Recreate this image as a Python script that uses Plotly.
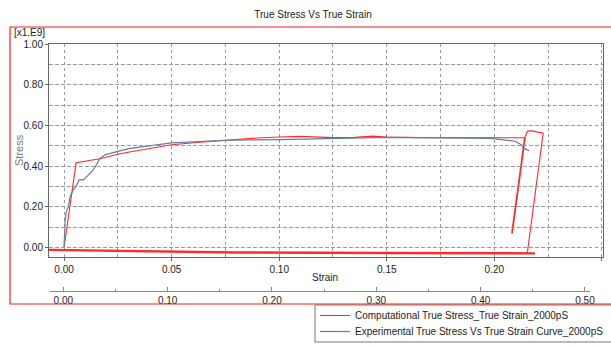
import plotly.graph_objects as go

# Computational curve (red), x = strain, y = stress [x1e9]
comp_x = [0, 0.0056, 0.0167, 0.025, 0.031, 0.05, 0.063, 0.075, 0.09, 0.10, 0.11, 0.125,
          0.135, 0.1436, 0.15, 0.165, 0.18, 0.20, 0.2142, 0.2153, 0.2169, 0.2227, 0.2153]
comp_y = [0, 0.416, 0.436, 0.458, 0.47, 0.505, 0.517, 0.527, 0.538, 0.543, 0.546, 0.540,
          0.541, 0.547, 0.543, 0.540, 0.539, 0.539, 0.539, 0.570, 0.574, 0.562, -0.029]
# Unloading segment and base line of the computational curve
comp_seg_x = [0.2082, 0.2142]
comp_seg_y = [0.069, 0.539]
comp_base_x = [-0.007, 0.04, 0.08, 0.15, 0.2189]
comp_base_y = [-0.012, -0.020, -0.025, -0.027, -0.029]

# Experimental curve (blue)
exp_x = [0, 0.0005, 0.0012, 0.002, 0.0028, 0.0043, 0.0051, 0.0071, 0.009, 0.0136, 0.0167,
         0.019, 0.0245, 0.0307, 0.05, 0.075, 0.10, 0.125, 0.1436, 0.15, 0.179, 0.198,
         0.2096, 0.2127, 0.2134, 0.2162]
exp_y = [0, 0.137, 0.184, 0.196, 0.25, 0.284, 0.292, 0.333, 0.332, 0.381, 0.438,
         0.455, 0.471, 0.487, 0.514, 0.527, 0.530, 0.536, 0.543, 0.541, 0.539, 0.536,
         0.522, 0.504, 0.488, 0.476]

RED = "#ff2a2a"
BLUE = "#5f7fa6"
FONT = "Liberation Sans"

fig = go.Figure()
fig.add_trace(go.Scatter(x=comp_x, y=comp_y, mode="lines", line=dict(color=RED, width=1.1),
                         name="Computational True Stress_True Strain_2000pS", legend="legend"))
fig.add_trace(go.Scatter(x=comp_seg_x, y=comp_seg_y, mode="lines", line=dict(color=RED, width=1.8),
                         showlegend=False))
fig.add_trace(go.Scatter(x=comp_base_x, y=comp_base_y, mode="lines", line=dict(color=RED, width=2.4),
                         showlegend=False))
fig.add_trace(go.Scatter(x=exp_x, y=exp_y, mode="lines", line=dict(color=BLUE, width=1.2),
                         name="Experimental True Stress Vs True Strain Curve_2000pS", legend="legend2"))

# invisible trace to activate the secondary strain axis
fig.add_trace(go.Scatter(x=[0, 0.5], y=[None, None], xaxis="x2", mode="lines",
                         showlegend=False, hoverinfo="skip"))

L, R, T, B = 49, 8, 44, 54
W, H = 611, 345
pw, ph = W - L - R, H - T - B

def px_x(p):
    return (p - L) / pw

def px_y(p):
    return (H - B - p) / ph

grid = dict(showgrid=True, gridcolor="#9a9a9a", griddash="dot", gridwidth=1)
leg_common = dict(xanchor="left", yanchor="top", bgcolor="rgba(0,0,0,0)", borderwidth=0,
                  font=dict(family=FONT, size=10, color="#222"))
fig.update_layout(
    width=W, height=H, margin=dict(l=L, r=R, t=T, b=B, autoexpand=False),
    paper_bgcolor="white", plot_bgcolor="rgba(0,0,0,0)",
    font=dict(family=FONT, size=10, color="#222"),
    title=dict(text="True Stress Vs True Strain", x=313 / W, xref="container", xanchor="center",
               y=1 - 14 / H, yref="container", yanchor="middle",
               font=dict(family=FONT, size=10, color="#222")),
    xaxis=dict(range=[-0.007, 0.2505], dtick=0.05, tick0=0, tickformat=".2f",
               **grid, minor=dict(dtick=0.025, showgrid=True, gridcolor="#9a9a9a", griddash="dot"),
               showline=True, linecolor="#666", mirror=True, zeroline=False,
               ticks="outside", ticklen=3, tickcolor="#666", automargin=False,
               anchor="y"),
    yaxis=dict(range=[-0.047, 1.0], dtick=0.2, tick0=0, tickformat=".2f",
               domain=[px_y(257), 1], automargin=False,
               **grid, minor=dict(dtick=0.1, showgrid=True, gridcolor="#9a9a9a", griddash="dot"),
               showline=True, linecolor="#666", mirror=True, zeroline=False,
               ticks="outside", ticklen=3, tickcolor="#666"),
    xaxis2=dict(range=[-0.01275, 0.5048], dtick=0.1, tick0=0, tickformat=".2f",
                domain=[px_x(50), px_x(590)], anchor="free", position=0,
                side="bottom", showgrid=False, zeroline=False, showline=True, linecolor="#888",
                ticks="inside", ticklen=4, tickcolor="#888", automargin=False,
                minor=dict(dtick=0.05, ticks="inside", ticklen=2, tickcolor="#888")),
    legend=dict(x=px_x(315), y=px_y(301), **leg_common),
    legend2=dict(x=px_x(315), y=px_y(317), **leg_common),
    showlegend=True,
)

# legend frame
fig.add_shape(type="rect", xref="paper", yref="paper",
              x0=px_x(315), x1=px_x(640), y0=px_y(342), y1=px_y(305),
              line=dict(color="#777", width=1), fillcolor="white", layer="below")
# red outer frame
fig.add_shape(type="rect", xref="paper", yref="paper",
              x0=px_x(10), x1=px_x(640), y0=px_y(304), y1=px_y(27),
              line=dict(color="#ee2222", width=1.2), layer="above")

fig.add_annotation(text="Strain", xref="paper", yref="paper", x=px_x(325), y=px_y(277),
                   xanchor="center", yanchor="middle", showarrow=False,
                   font=dict(family=FONT, size=10, color="#222"))
fig.add_annotation(text="[x1.E9]", xref="paper", yref="paper", x=px_x(12), y=px_y(33),
                   xanchor="left", yanchor="middle", showarrow=False,
                   font=dict(family=FONT, size=10, color="#222"))
fig.add_annotation(text="Stress", xref="paper", yref="paper", x=px_x(19), y=px_y(150),
                   xanchor="center", yanchor="middle", showarrow=False, textangle=-90,
                   font=dict(family=FONT, size=11, color="#777"))

fig.write_html("out.html")
